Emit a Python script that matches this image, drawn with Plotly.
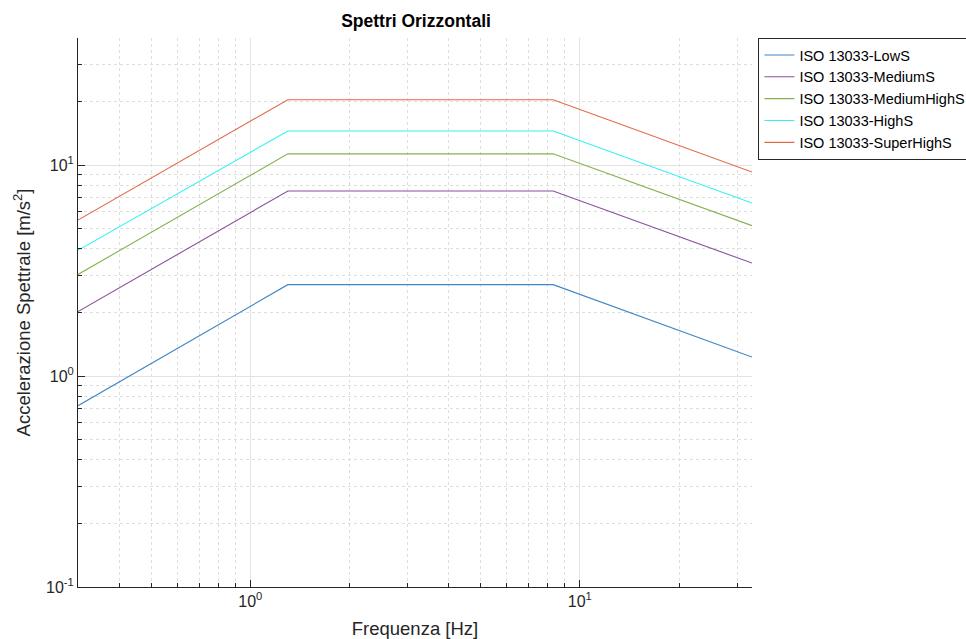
import numpy as np
import plotly.graph_objects as go

# Frequency breakpoints [Hz]
freq = [0.3, 1.3, 8.3, 33.3]

# Horizontal spectral acceleration [m/s^2] for each class
low_s = [0.723, 2.71, 2.71, 1.23]
medium_s = [2.02, 7.53, 7.53, 3.43]
medium_high_s = [3.03, 11.3, 11.3, 5.16]
high_s = [3.94, 14.5, 14.5, 6.61]
super_high_s = [5.48, 20.4, 20.4, 9.26]

names = ["ISO 13033-LowS", "ISO 13033-MediumS", "ISO 13033-MediumHighS",
         "ISO 13033-HighS", "ISO 13033-SuperHighS"]
series = [low_s, medium_s, medium_high_s, high_s, super_high_s]
colors = ["#3f86c6", "#8a4f9c", "#84b24f", "#33f2f2", "#e06a45"]

x_major = [1, 10]
x_major_text = ["10<sup>0</sup>", "10<sup>1</sup>"]
y_major = [0.1, 1, 10]
y_major_text = ["10<sup>-1</sup>", "10<sup>0</sup>", "10<sup>1</sup>"]
x_minor = [0.4, 0.5, 0.6, 0.7, 0.8, 0.9, 2, 3, 4, 5, 6, 7, 8, 9, 20, 30]
y_minor = [0.2, 0.3, 0.4, 0.5, 0.6, 0.7, 0.8, 0.9, 2, 3, 4, 5, 6, 7, 8, 9, 20, 30]

fig = go.Figure()
for name, vals, col in zip(names, series, colors):
    fig.add_trace(go.Scatter(x=freq, y=vals, mode="lines", name=name,
                             line=dict(color=col, width=1.1)))

font_family = "Liberation Sans, Arial, sans-serif"
axis_common = dict(
    type="log",
    showline=True, linecolor="#262626", linewidth=1,
    ticks="inside", ticklen=7, tickcolor="#262626", tickwidth=1,
    showgrid=True, gridcolor="#e3e3e3", gridwidth=1,
    zeroline=False, mirror=False,
    tickfont=dict(family=font_family, size=16, color="#262626"),
    tickmode="array",
)

fig.update_xaxes(
    **axis_common,
    range=[np.log10(0.3), np.log10(33.3)],
    tickvals=x_major, ticktext=x_major_text,
    minor=dict(tickmode="array", tickvals=x_minor, ticks="inside", ticklen=4,
               tickcolor="#262626", showgrid=True, gridcolor="#dedede",
               griddash="dot", gridwidth=1),
    title=dict(text="Frequenza [Hz]", standoff=14,
               font=dict(family=font_family, size=18.5, color="#262626")),
)
fig.update_yaxes(
    **axis_common,
    range=[-1, np.log10(40)],
    tickvals=y_major, ticktext=y_major_text,
    minor=dict(tickmode="array", tickvals=y_minor, ticks="inside", ticklen=4,
               tickcolor="#262626", showgrid=True, gridcolor="#dedede",
               griddash="dot", gridwidth=1),
    title=dict(text="Accelerazione Spettrale [m/s<sup>2</sup>]", standoff=10,
               font=dict(family=font_family, size=18.5, color="#262626")),
)

fig.update_layout(
    width=966, height=639,
    margin=dict(l=78, r=214, t=38, b=52, autoexpand=False),
    paper_bgcolor="white", plot_bgcolor="white",
    title=dict(text="<b>Spettri Orizzontali</b>", x=416 / 966,
               xanchor="center", y=1 - 21 / 639, yanchor="middle",
               font=dict(family=font_family, size=17.5, color="black")),
    showlegend=True,
    legend=dict(x=1.0095, xanchor="left", y=1.0, yanchor="top",
                bordercolor="#262626", borderwidth=1, bgcolor="white",
                font=dict(family=font_family, size=14.5, color="black"),
                itemwidth=30, tracegroupgap=0),
)

fig.write_html("out.html")
